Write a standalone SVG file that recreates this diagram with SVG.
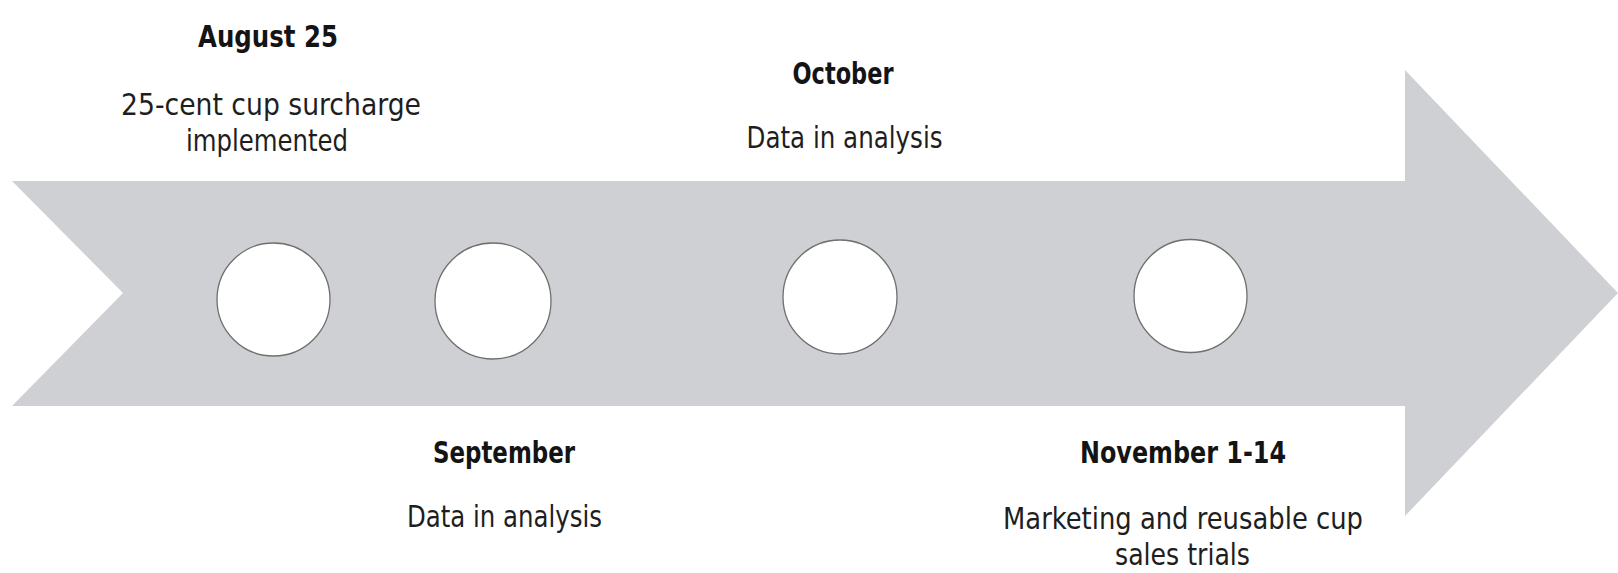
<svg xmlns="http://www.w3.org/2000/svg" width="1618" height="573" viewBox="0 0 1618 573">
  <style>
    .band { fill: #cfd0d3; }
    .dot { fill: #ffffff; stroke: #6f6f6f; stroke-width: 1.3; }
    .title { font-family: "DejaVu Sans Condensed", "Liberation Sans", sans-serif; font-weight: bold; font-size: 30px; fill: #141414; text-anchor: middle; }
    .body { font-family: "DejaVu Sans Condensed", "Liberation Sans", sans-serif; font-size: 30px; fill: #1e1e1e; text-anchor: middle; }
  </style>

  <rect width="1618" height="573" fill="#ffffff"/>

  <!-- timeline arrow -->
  <g id="connectors">
    <polygon class="band" points="12,181 1405,181 1405,70 1618,293 1405,516 1405,406 12,406 123,293"/>
  </g>

  <!-- milestone: August 25 -->
  <g id="node-august">
    <circle class="dot" cx="273.5" cy="299.5" r="56.5"/>
    <text class="title" x="268" y="47" textLength="140" lengthAdjust="spacingAndGlyphs">August  25</text>
    <text class="body" x="271" y="115" textLength="300" lengthAdjust="spacingAndGlyphs">25-cent  cup surcharge</text>
    <text class="body" x="267" y="151" textLength="162" lengthAdjust="spacingAndGlyphs">implemented</text>
  </g>

  <!-- milestone: September -->
  <g id="node-september">
    <circle class="dot" cx="493" cy="301" r="58"/>
    <text class="title" x="504" y="463" textLength="142" lengthAdjust="spacingAndGlyphs">September</text>
    <text class="body" x="504.5" y="527" textLength="195" lengthAdjust="spacingAndGlyphs">Data  in  analysis</text>
  </g>

  <!-- milestone: October -->
  <g id="node-october">
    <circle class="dot" cx="840" cy="297" r="57"/>
    <text class="title" x="843" y="84" textLength="101" lengthAdjust="spacingAndGlyphs">October</text>
    <text class="body" x="844.5" y="148" textLength="196" lengthAdjust="spacingAndGlyphs">Data  in  analysis</text>
  </g>

  <!-- milestone: November 1-14 -->
  <g id="node-november">
    <circle class="dot" cx="1190.5" cy="296" r="56.5"/>
    <text class="title" x="1183" y="463" textLength="206" lengthAdjust="spacingAndGlyphs">November  1-14</text>
    <text class="body" x="1183" y="529" textLength="360" lengthAdjust="spacingAndGlyphs">Marketing  and reusable  cup</text>
    <text class="body" x="1182.5" y="565" textLength="135" lengthAdjust="spacingAndGlyphs">sales  trials</text>
  </g>
</svg>
